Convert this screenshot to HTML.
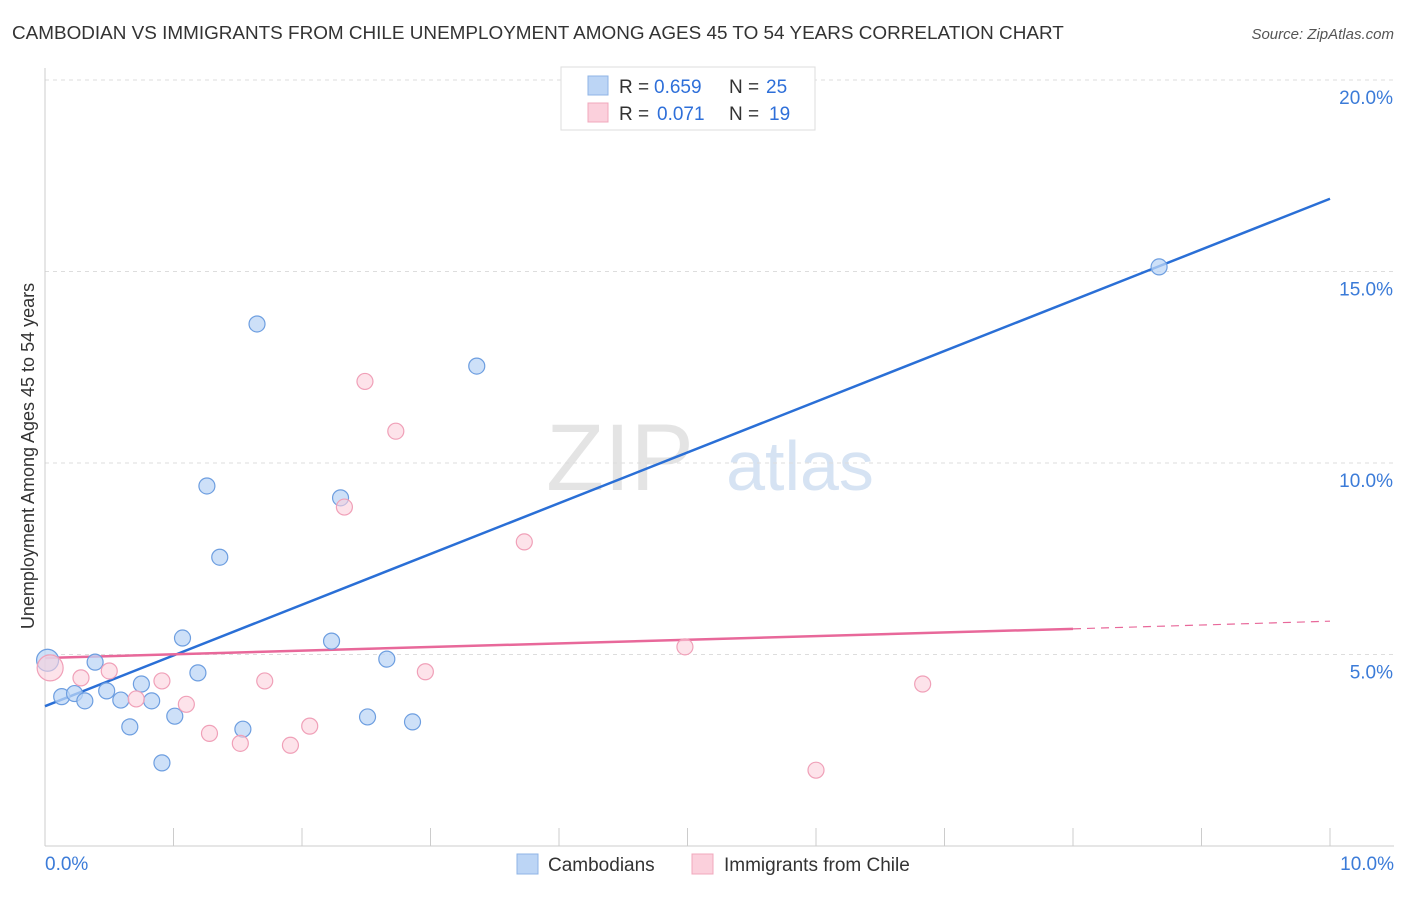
<!DOCTYPE html>
<html><head><meta charset="utf-8">
<style>
body{margin:0;background:#fff;font-family:"Liberation Sans",sans-serif;}
svg text{font-family:"Liberation Sans",sans-serif;}
</style></head>
<body>
<svg id="chart" width="1406" height="892" xmlns="http://www.w3.org/2000/svg">
<text x="12" y="39" font-size="18.9" fill="#333">CAMBODIAN VS IMMIGRANTS FROM CHILE UNEMPLOYMENT AMONG AGES 45 TO 54 YEARS CORRELATION CHART</text>
<text x="1394" y="39" font-size="15" fill="#555" text-anchor="end" font-style="italic">Source: ZipAtlas.com</text>
<text x="620" y="490" font-size="95" fill="#e4e4e4" font-family="Liberation Serif" text-anchor="middle">ZIP</text>
<text x="800" y="490" font-size="70" fill="#d6e3f3" text-anchor="middle">atlas</text>
<text transform="translate(34,456) rotate(-90)" font-size="18" fill="#333" text-anchor="middle">Unemployment Among Ages 45 to 54 years</text>
<g id="grid"></g><g id="axes"></g><g id="lines"></g><g id="pts"></g>
<g>
<rect x="561" y="67" width="254" height="63" fill="#fff" stroke="#ddd"/>
<rect x="588" y="76" width="20" height="19" fill="#bcd5f5" stroke="#8fb4e6"/>
<text x="619" y="93" font-size="19" fill="#333">R =</text>
<text x="654" y="93" font-size="19" fill="#2e6fd9">0.659</text>
<text x="729" y="93" font-size="19" fill="#333">N =</text>
<text x="766" y="93" font-size="19" fill="#2e6fd9">25</text>
<rect x="588" y="103" width="20" height="19" fill="#fbd0dc" stroke="#f0a8bc"/>
<text x="619" y="120" font-size="19" fill="#333">R =</text>
<text x="657" y="120" font-size="19" fill="#2e6fd9">0.071</text>
<text x="729" y="120" font-size="19" fill="#333">N =</text>
<text x="769" y="120" font-size="19" fill="#2e6fd9">19</text>
</g>
<g>
<rect x="517" y="854" width="21" height="20" fill="#bcd5f5" stroke="#8fb4e6"/>
<text x="548" y="871" font-size="19" fill="#333">Cambodians</text>
<rect x="692" y="854" width="21" height="20" fill="#fbd0dc" stroke="#f0a8bc"/>
<text x="724" y="871" font-size="19" fill="#333">Immigrants from Chile</text>
</g>
</svg>
<script>
const cambX=[0.02,0.13,0.23,0.31,0.39,0.48,0.59,0.66,0.75,0.83,0.91,1.01,1.07,1.19,1.26,1.36,1.54,1.65,2.23,2.30,2.51,2.66,2.86,3.36,8.67];
const cambY=[4.85,3.90,3.98,3.79,4.80,4.05,3.81,3.11,4.23,3.79,2.17,3.39,5.43,4.52,9.40,7.54,3.05,13.63,5.35,9.09,3.37,4.88,3.24,12.53,15.12];
const chileX=[0.04,0.28,0.50,0.71,0.91,1.10,1.28,1.52,1.71,1.91,2.06,2.33,2.49,2.73,2.96,3.73,4.98,6.00,6.83];
const chileY=[4.65,4.39,4.57,3.84,4.31,3.70,2.94,2.68,4.31,2.63,3.13,8.85,12.13,10.83,4.55,7.94,5.20,1.98,4.23];
const ticksY=[5,10,15,20];
const blueLine=[[0,3.65],[10,16.9]];
const pinkLine=[[0,4.91],[8,5.67],[10,5.87]];
const X=v=>45+v*128.5, Y=v=>846-v*38.3;
const NS='http://www.w3.org/2000/svg';
function mk(t,a,p){const e=document.createElementNS(NS,t);for(const k in a)e.setAttribute(k,a[k]);p.appendChild(e);return e;}
const grid=document.getElementById('grid'),axes=document.getElementById('axes'),lines=document.getElementById('lines'),pts=document.getElementById('pts');
ticksY.forEach(t=>{
 const g=mk('line',{x1:45,x2:1394,y1:Y(t),y2:Y(t),stroke:'#ddd','stroke-dasharray':'4,4'},grid);
 
 
 const l=mk('text',{x:1393,y:Y(t)+24,'font-size':19,fill:'#3b7bd8','text-anchor':'end'},axes);l.textContent=t.toFixed(1)+'%';
 
 
});
mk('line',{x1:45,x2:45,y1:68,y2:846,stroke:'#ccc'},axes);
mk('line',{x1:45,x2:1394,y1:846,y2:846,stroke:'#ccc'},axes);
for(let i=0;i<=10;i++){
 const tk=mk('line',{x1:X(i),x2:X(i),y1:828,y2:846,stroke:'#ccc'},axes);
 
 
}
const xl0=mk('text',{x:45,y:870,'font-size':19,fill:'#3b7bd8'},axes);xl0.textContent='0.0%';


const xl1=mk('text',{x:1394,y:870,'font-size':19,fill:'#3b7bd8','text-anchor':'end'},axes);xl1.textContent='10.0%';


cambX.forEach((v,i)=>{
 const c=mk('circle',{cx:X(v),cy:Y(cambY[i]),r:i===0?11:8,fill:'#bcd5f5','fill-opacity':0.75,stroke:'#6d9ee0','stroke-width':1.2},pts);
 
 
});
chileX.forEach((v,i)=>{
 const c=mk('circle',{cx:X(v),cy:Y(chileY[i]),r:i===0?13:8,fill:'#fbd0dc','fill-opacity':0.6,stroke:'#f0a0b8','stroke-width':1.2},pts);
 
 
});
const bl=mk('line',{x1:X(blueLine[0][0]),y1:Y(blueLine[0][1]),x2:X(blueLine[1][0]),y2:Y(blueLine[1][1]),stroke:'#2a6fd6','stroke-width':2.5},lines);


const pl=mk('line',{x1:X(pinkLine[0][0]),y1:Y(pinkLine[0][1]),x2:X(pinkLine[1][0]),y2:Y(pinkLine[1][1]),stroke:'#e8689a','stroke-width':2.5},lines);


const pd=mk('line',{x1:X(pinkLine[1][0]),y1:Y(pinkLine[1][1]),x2:X(pinkLine[2][0]),y2:Y(pinkLine[2][1]),stroke:'#e8689a','stroke-width':1.2,'stroke-dasharray':'8,6'},lines);


</script>
</body></html>
